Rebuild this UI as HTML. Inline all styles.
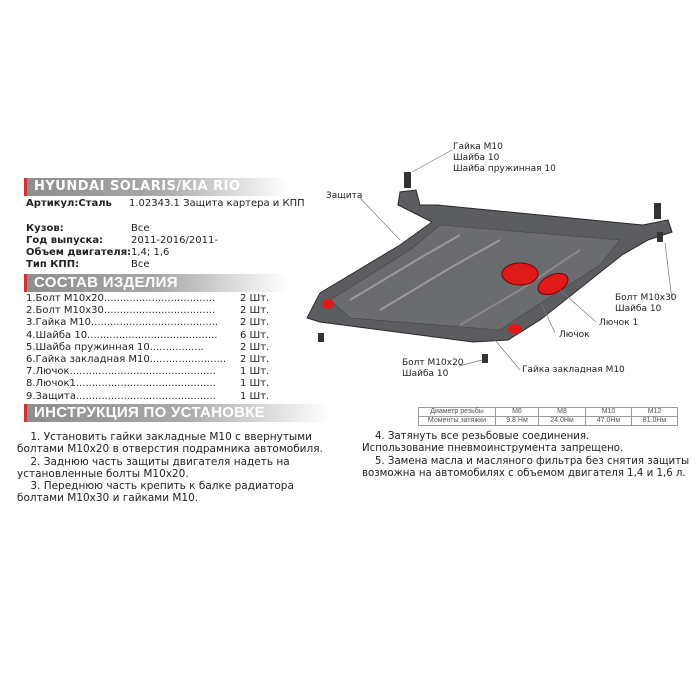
<!DOCTYPE html>
<html><head><meta charset="utf-8"><style>
body{margin:0;width:700px;height:700px;background:#fff;position:relative;overflow:hidden;font-family:"DejaVu Sans","Liberation Sans",sans-serif;color:#222}
.t{position:absolute;white-space:nowrap;font-size:10px;line-height:12px}
.b{font-weight:bold}
.bar{position:absolute;left:24px;height:18px;border-left:3px solid #c33;background:linear-gradient(90deg,#8e8e8e 0%,#a8a8a8 50%,#fff 100%);color:#fff;font-weight:bold;padding-left:7px;box-sizing:border-box;line-height:18px;font-size:13px;letter-spacing:0.5px}
.bar2{font-family:"Liberation Sans",sans-serif;font-size:15px;letter-spacing:0.3px}
table{position:absolute;left:418px;top:407px;border-collapse:collapse;font-family:"Liberation Sans",sans-serif;font-size:7px;color:#555;border:1px solid #777}
td{border:1px solid #999;height:8px;padding:0;text-align:center;line-height:8px}
.lbl{font-size:9px;fill:#222;font-family:"DejaVu Sans","Liberation Sans",sans-serif}
</style></head><body>
<div class="bar" style="top:178px;width:264px">HYUNDAI SOLARIS/KIA RIO</div>
<div class="t b" style="left:26px;top:198px">Артикул:Сталь</div>
<div class="t" style="left:129px;top:198px">1.02343.1 Защита картера и КПП</div>
<div class="t b" style="left:26px;top:223px">Кузов:</div><div class="t" style="left:131px;top:223px">Все</div>
<div class="t b" style="left:26px;top:235px">Год выпуска:</div><div class="t" style="left:131px;top:235px">2011-2016/2011-</div>
<div class="t b" style="left:26px;top:247px">Объем двигателя:</div><div class="t" style="left:131px;top:247px">1,4; 1,6</div>
<div class="t b" style="left:26px;top:259px">Тип КПП:</div><div class="t" style="left:131px;top:259px">Все</div>
<div class="bar bar2" style="top:274px;width:264px">СОСТАВ ИЗДЕЛИЯ</div>
<div class="t" style="left:26px;top:293px;line-height:12.2px">1.Болт М10х20...................................<br>2.Болт М10х30...................................<br>3.Гайка М10........................................<br>4.Шайба 10.........................................<br>5.Шайба пружинная 10.................<br>6.Гайка закладная М10........................<br>7.Лючок..............................................<br>8.Лючок1............................................<br>9.Защита............................................</div>
<div class="t" style="left:240px;top:293px;line-height:12.2px;background:#fff;padding-left:3px;margin-left:-3px">2 Шт.<br>2 Шт.<br>2 Шт.<br>6 Шт.<br>2 Шт.<br>2 Шт.<br>1 Шт.<br>1 Шт.<br>1 Шт.</div>
<div class="bar bar2" style="top:404px;width:306px">ИНСТРУКЦИЯ ПО УСТАНОВКЕ</div>
<div class="t" style="left:17px;top:431px;line-height:12.3px;font-size:10.5px">&nbsp;&nbsp;&nbsp;&nbsp;1. Установить гайки закладные М10 с ввернутыми<br>болтами М10х20 в отверстия подрамника автомобиля.<br>&nbsp;&nbsp;&nbsp;&nbsp;2. Заднюю часть защиты двигателя надеть на<br>установленные болты М10х20.<br>&nbsp;&nbsp;&nbsp;&nbsp;3. Переднюю часть крепить к балке радиатора<br>болтами М10х30 и гайками М10.</div>
<div class="t" style="left:362px;top:431px;line-height:12.3px;font-size:10.2px">&nbsp;&nbsp;&nbsp;&nbsp;4. Затянуть все резьбовые соединения.<br>Использование пневмоинструмента запрещено.<br>&nbsp;&nbsp;&nbsp;&nbsp;5. Замена масла и масляного фильтра без снятия защиты<br>возможна на автомобилях с объемом двигателя 1,4 и 1,6 л.</div>
<table><tr><td style="width:76px">Диаметр резьбы</td><td style="width:42px">M6</td><td style="width:46px">M8</td><td style="width:45px">M10</td><td style="width:45px">M12</td></tr>
<tr><td>Моменты затяжки</td><td>9.8 Нм</td><td>24.0Нм</td><td>47.0Нм</td><td>81.0Нм</td></tr></table>
<svg width="700" height="700" style="position:absolute;left:0;top:0">
<polygon points="307,318 320,293 400,245 432,222 398,205 400,192 416,190 420,205 437,205 643,225 668,220 672,232 648,240 622,255 540,320 508,340 473,342 320,322" fill="#5b5d60" stroke="#2a2a2a" stroke-width="1"/>
<polygon points="330,300 410,250 440,225 620,240 600,265 530,310 500,330 350,318" fill="#6a6c6f" stroke="#444" stroke-width="0.6"/>
<polyline points="350,300 420,258 460,235" fill="none" stroke="#999" stroke-width="2"/>
<polyline points="380,310 450,268 500,240" fill="none" stroke="#999" stroke-width="2"/>
<polyline points="460,325 520,290 580,250" fill="none" stroke="#888" stroke-width="2"/>
<ellipse cx="520" cy="274" rx="18" ry="11" fill="#e01a1a" stroke="#700"/>
<ellipse cx="553" cy="284" rx="16" ry="9" fill="#e01a1a" stroke="#700" transform="rotate(-25 553 284)"/>
<ellipse cx="328" cy="304" rx="6" ry="5" fill="#e01a1a"/>
<ellipse cx="515" cy="329" rx="7" ry="5" fill="#e01a1a"/>
<g fill="#333"><rect x="404" y="172" width="7" height="16"/><rect x="654" y="203" width="7" height="16"/><rect x="657" y="232" width="6" height="10"/><rect x="318" y="333" width="6" height="9"/><rect x="482" y="354" width="6" height="9"/></g>
<g stroke="#777" stroke-width="0.7" fill="none">
<line x1="412" y1="172" x2="452" y2="150"/><line x1="360" y1="198" x2="400" y2="240"/>
<line x1="665" y1="243" x2="672" y2="300"/><line x1="560" y1="290" x2="596" y2="322"/>
<line x1="535" y1="290" x2="555" y2="333"/><line x1="459" y1="366" x2="482" y2="360"/>
<line x1="495" y1="340" x2="520" y2="370"/></g>
<text class="lbl" x="453" y="149">Гайка М10</text><text class="lbl" x="453" y="160">Шайба 10</text><text class="lbl" x="453" y="171">Шайба пружинная 10</text>
<text class="lbl" x="326" y="198">Защита</text>
<text class="lbl" x="615" y="300">Болт М10х30</text><text class="lbl" x="615" y="311">Шайба 10</text>
<text class="lbl" x="599" y="325">Лючок 1</text><text class="lbl" x="559" y="337">Лючок</text>
<text class="lbl" x="402" y="365">Болт М10х20</text><text class="lbl" x="402" y="376">Шайба 10</text>
<text class="lbl" x="522" y="372">Гайка закладная М10</text>
</svg>
</body></html>
